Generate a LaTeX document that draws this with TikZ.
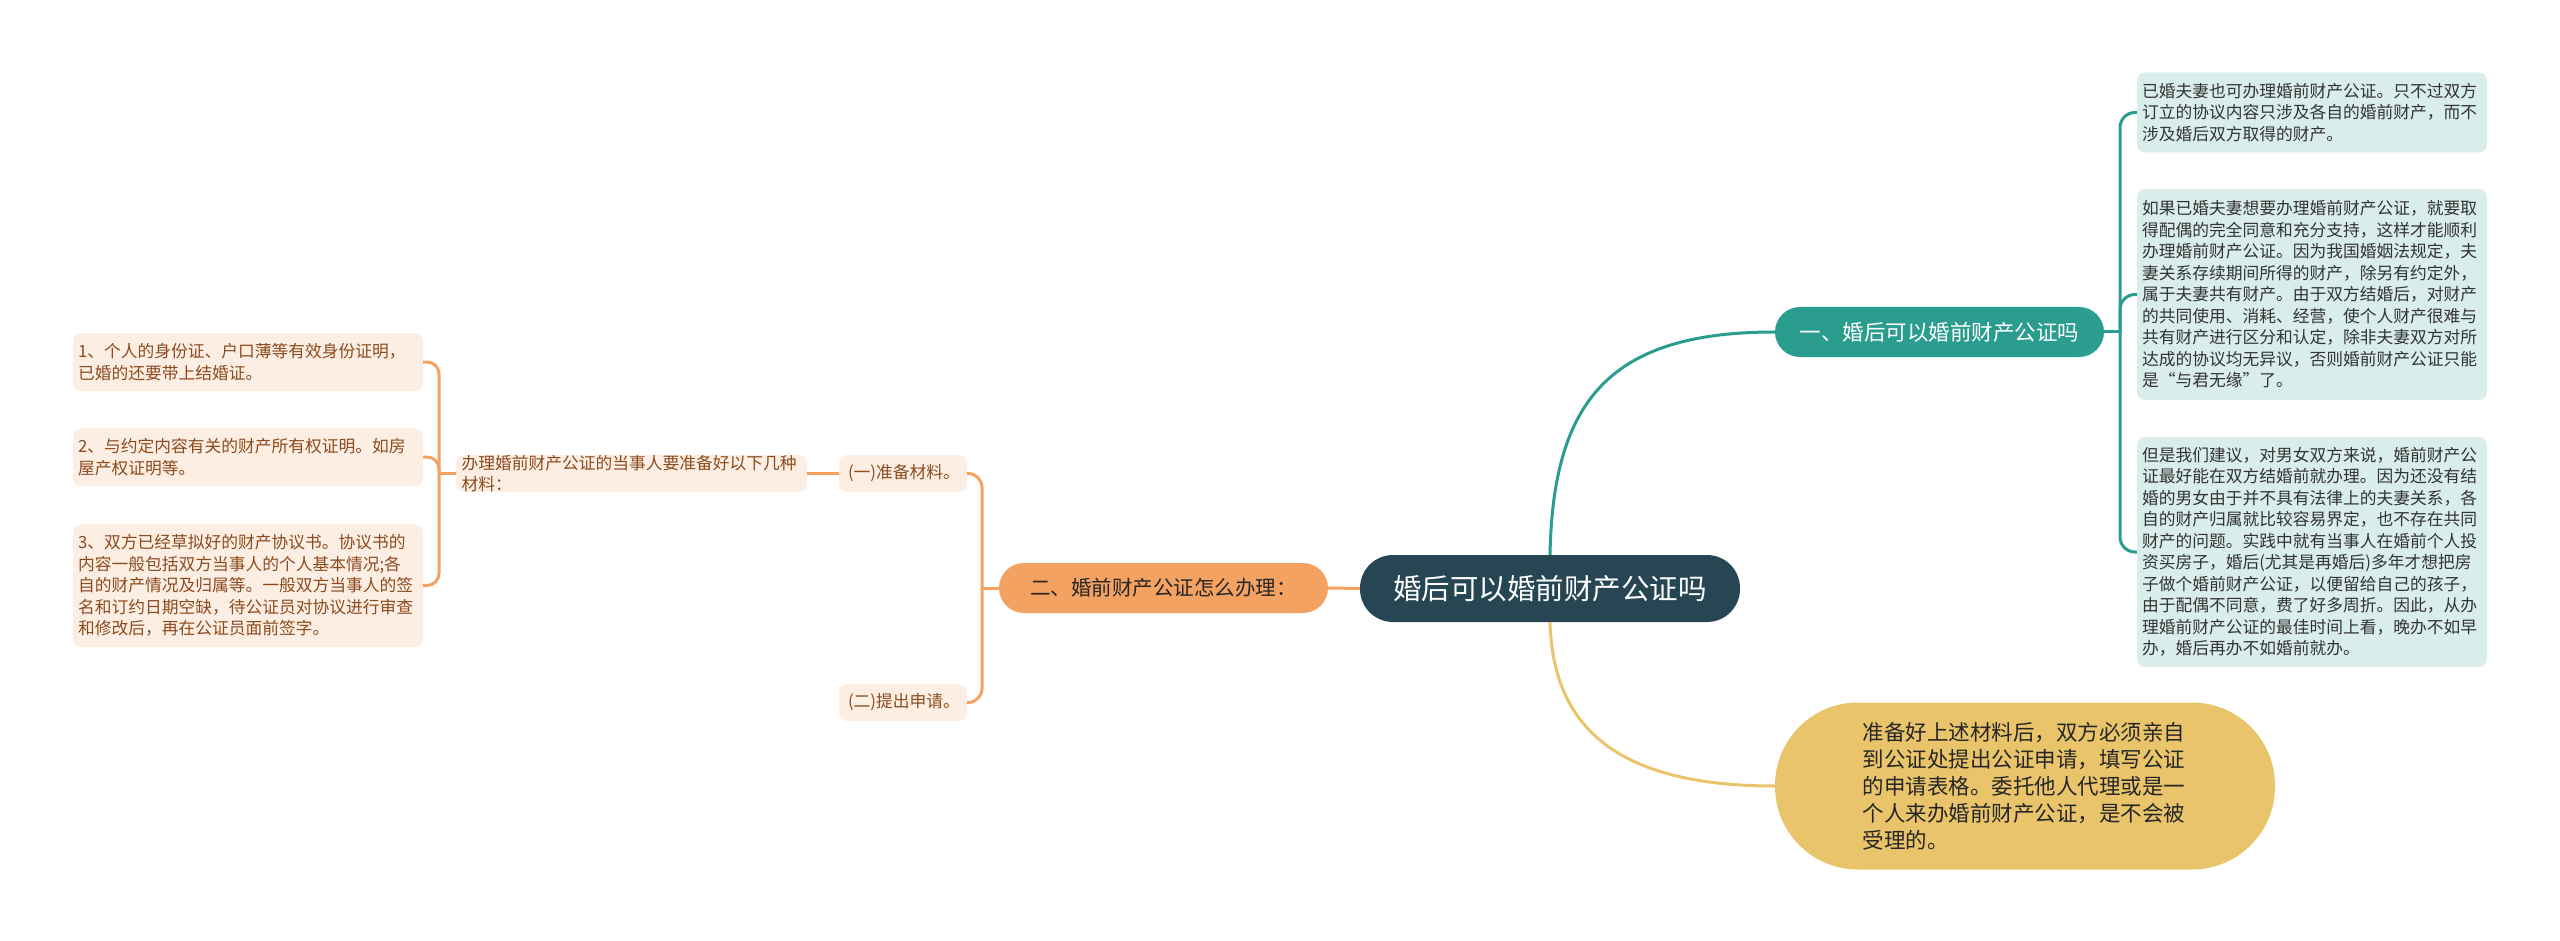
\documentclass[tikz,border=0pt]{standalone}
\usepackage{fontspec}
\setmainfont{Noto Sans CJK SC}
\definecolor{rootcol}{RGB}{38,70,83}
\definecolor{tealcol}{RGB}{42,157,143}
\definecolor{goldcol}{RGB}{233,196,106}
\definecolor{orangecol}{RGB}{244,162,97}
\definecolor{browntext}{RGB}{140,75,30}
\definecolor{leaftext}{RGB}{51,51,51}
\newcommand\fsz[2]{\fontsize{#1}{#2}\selectfont}
\tikzset{
  leafbox/.style={rounded corners=8pt, inner xsep=5pt, inner ysep=0pt, align=left, font=\fsz{16.75}{21.5}},
  tealleaf/.style={leafbox, fill=tealcol!18, text=leaftext, text width=340pt},
  peachleaf/.style={leafbox, fill=orangecol!18, text=browntext},
  tealline/.style={draw=tealcol, line width=3pt},
  orangeline/.style={draw=orangecol, line width=3pt},
  goldline/.style={draw=goldcol, line width=3pt}
}
\begin{document}
\begin{tikzpicture}[x=1pt,y=-1pt]
\useasboundingbox (0,0) rectangle (2560,941);
\node[fill=rootcol, text=white, rounded corners=33pt, minimum width=380pt, minimum height=67pt, font=\fsz{28.5}{30}] (root) at (1550,588.5) {婚后可以婚前财产公证吗};
\node[fill=tealcol, text=white, rounded corners=25pt, minimum width=329pt, minimum height=50pt, font=\fsz{21.5}{24}] (b1) at (1939.5,332) {一、婚后可以婚前财产公证吗};
\node[fill=orangecol, text=black!85, rounded corners=25pt, minimum width=329pt, minimum height=50pt, font=\fsz{20.5}{24}] (b2) at (1163.5,588) {二、婚前财产公证怎么办理：};
\node[fill=goldcol, text=black!85, rounded corners=83pt, minimum width=500pt, minimum height=167pt, align=left, text width=325pt, font=\fsz{21.5}{27}] (b3) at (2025,786) {准备好上述材料后，双方必须亲自\\到公证处提出公证申请，填写公证\\的申请表格。委托他人代理或是一\\个人来办婚前财产公证，是不会被\\受理的。};

\node[tealleaf, minimum height=80pt] (r1) at (2312,112.5) {已婚夫妻也可办理婚前财产公证。只不过双方\\订立的协议内容只涉及各自的婚前财产，而不\\涉及婚后双方取得的财产。};
\node[tealleaf, minimum height=211pt] (r2) at (2312,294.5) {如果已婚夫妻想要办理婚前财产公证，就要取\\得配偶的完全同意和充分支持，这样才能顺利\\办理婚前财产公证。因为我国婚姻法规定，夫\\妻关系存续期间所得的财产，除另有约定外，\\属于夫妻共有财产。由于双方结婚后，对财产\\的共同使用、消耗、经营，使个人财产很难与\\共有财产进行区分和认定，除非夫妻双方对所\\达成的协议均无异议，否则婚前财产公证只能\\是“与君无缘”了。};
\node[tealleaf, minimum height=230pt] (r3) at (2312,552) {但是我们建议，对男女双方来说，婚前财产公\\证最好能在双方结婚前就办理。因为还没有结\\婚的男女由于并不具有法律上的夫妻关系，各\\自的财产归属就比较容易界定，也不存在共同\\财产的问题。实践中就有当事人在婚前个人投\\资买房子，婚后(尤其是再婚后)多年才想把房\\子做个婚前财产公证，以便留给自己的孩子，\\由于配偶不同意，费了好多周折。因此，从办\\理婚前财产公证的最佳时间上看，晚办不如早\\办，婚后再办不如婚前就办。};

\node[peachleaf, text width=340pt, minimum height=37pt, inner xsep=5.5pt] (mid) at (631.5,473.5) {办理婚前财产公证的当事人要准备好以下几种\\材料：};
\node[peachleaf, text width=110pt, inner xsep=9pt, minimum height=37pt] (s1) at (903,473.5) {(一)准备材料。};
\node[peachleaf, text width=110pt, inner xsep=9pt, minimum height=37pt] (s2) at (903,702.5) {(二)提出申请。};

\node[peachleaf, text width=340pt, minimum height=58pt] (l1) at (248,362) {1、个人的身份证、户口薄等有效身份证明，\\已婚的还要带上结婚证。};
\node[peachleaf, text width=340pt, minimum height=58pt] (l2) at (248,457) {2、与约定内容有关的财产所有权证明。如房\\屋产权证明等。};
\node[peachleaf, text width=340pt, minimum height=123pt] (l3) at (248,585.5) {3、双方已经草拟好的财产协议书。协议书的\\内容一般包括双方当事人的个人基本情况;各\\自的财产情况及归属等。一般双方当事人的签\\名和订约日期空缺，待公证员对协议进行审查\\和修改后，再在公证员面前签字。};

\draw[tealline] (root.north) .. controls (1553,400) and (1610,332) .. (b1.west);
\draw[goldline] (root.south) .. controls (1553,730) and (1620,786) .. (b3.west);
\draw[orangeline] (root.west) -- (b2.east);

\coordinate (rj) at (2120,332);
\draw[tealline] (b1.east) -- (rj);
\foreach \n in {r1,r2,r3}
  \draw[tealline, rounded corners=15pt] (rj) |- (\n.west);

\coordinate (oj) at (982,588);
\draw[orangeline] (b2.west) -- (oj);
\foreach \n in {s1,s2}
  \draw[orangeline, rounded corners=14pt] (oj) |- (\n.east);
\draw[orangeline] (mid.east) -- (s1.west);

\coordinate (lj) at (439,473.5);
\draw[orangeline] (mid.west) -- (lj);
\foreach \n in {l1,l2,l3}
  \draw[orangeline, rounded corners=12pt] (lj) |- (\n.east);
\end{tikzpicture}
\end{document}
